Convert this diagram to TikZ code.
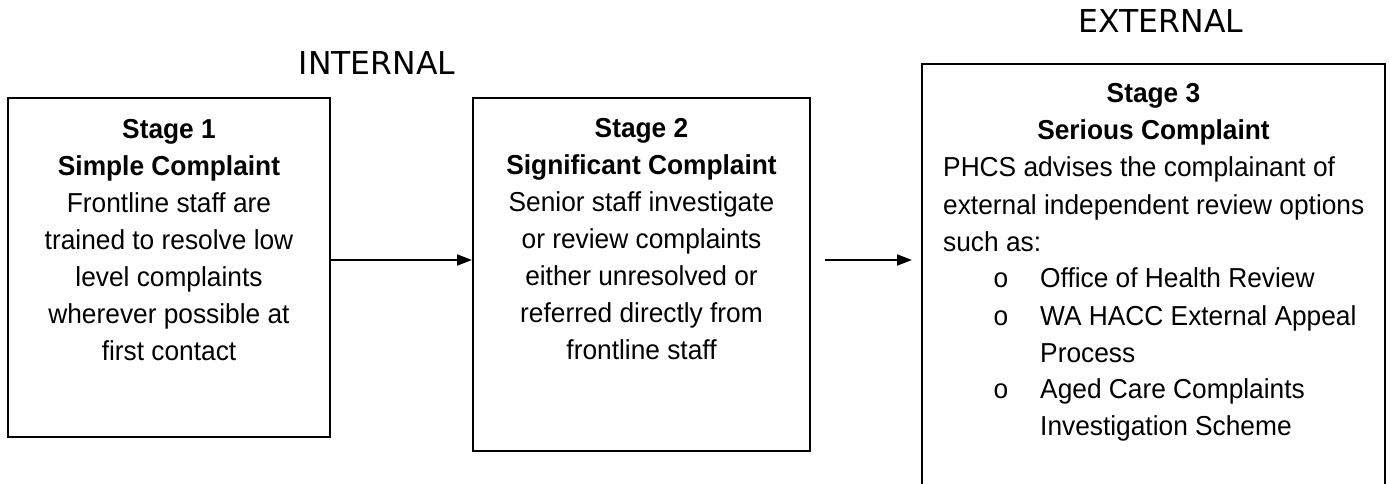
\documentclass[tikz,border=0pt]{standalone}
\usepackage{fontspec}
\setmainfont{Liberation Sans}[FakeStretch=0.96]
\newfontfamily\zonefont{DejaVu Sans}
\usepackage{tikz}
\usetikzlibrary{positioning, arrows.meta, calc}

\begin{document}
\begin{tikzpicture}[x=1pt, y=-1pt,
    stagebox/.style={draw, line width=2pt, rectangle, inner sep=0pt},
    bodytext/.style={font=\fontsize{27.4}{37}\selectfont, inner sep=0pt, align=center},
    zonelabel/.style={font=\zonefont\fontsize{31.5}{36}\selectfont, inner sep=0pt},
    flowarrow/.style={line width=2pt, -{Triangle[length=15pt, width=11pt]}}]
            \useasboundingbox (0,0) rectangle (1390,484);
            \clip (0,0) rectangle (1390,484);

            % headings over the stages
            \node[zonelabel, anchor=base] (internal) at (377,75) {INTERNAL};
            \node[zonelabel, anchor=base] (external) at (1161,33) {EXTERNAL};

            % the three boxes
            \node[stagebox, minimum width=322pt, minimum height=339pt] (stageone) at (169,267.5) {};
            \node[stagebox, minimum width=337pt, minimum height=353pt] (stagetwo) at (641.5,274.5) {};
            \node[stagebox, minimum width=463pt, minimum height=476pt] (stagethree) at (1153.5,302) {};

            % stage 1 (base = last line)
            \node[bodytext, anchor=base] (stageonetext) at (stageone.north |- 0,360) {\textbf{Stage 1}\\\textbf{Simple Complaint}\\Frontline staff are\\trained to resolve low\\level complaints\\wherever possible at\\first contact};

            % stage 2
            \node[bodytext, anchor=base] (stagetwotext) at (stagetwo.north |- 0,359) {\textbf{Stage 2}\\\textbf{Significant Complaint}\\Senior staff investigate\\or review complaints\\either unresolved or\\referred directly from\\frontline staff};

            % stage 3
            \node[bodytext, anchor=base] (stagethreehead) at (stagethree.north |- 0,140) {\textbf{Stage 3}\\\textbf{Serious Complaint}};
            \node[bodytext, align=left, anchor=base west] (stagethreetext) at (943,251) {PHCS advises the complainant of\\external independent review options\\such as:};
            \node[bodytext, anchor=base] (bulletone) at (1001,287) {o};
            \node[bodytext, align=left, anchor=base west] (optionone) at (1040,287) {Office of Health Review};
            \node[bodytext, anchor=base] (bullettwo) at (1001,325) {o};
            \node[bodytext, align=left, anchor=base west] (optiontwo) at (1040,362) {WA HACC External Appeal\\Process};
            \node[bodytext, anchor=base] (bulletthree) at (1001,398) {o};
            \node[bodytext, align=left, anchor=base west] (optionthree) at (1040,435) {Aged Care Complaints\\Investigation Scheme};

            % arrows
            \coordinate (gapstart) at (825,260);
            \coordinate (gapend) at (912,260);
            \draw[flowarrow] (stageone.east |- 0,260) -- (stagetwo.west |- 0,260);
            \draw[flowarrow] (gapstart) -- (gapend);
\end{tikzpicture}
\end{document}
